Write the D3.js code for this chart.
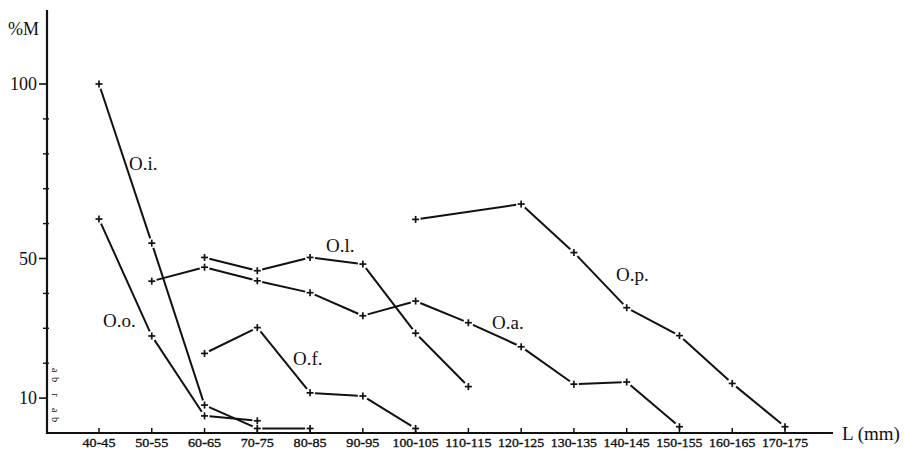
<!DOCTYPE html>
<html>
<head>
<meta charset="utf-8">
<script src="https://cdn.jsdelivr.net/npm/d3@7"></script>
<style>
  html, body { margin: 0; padding: 0; background: #fff; }
  svg { display: block; }
  text { font-family: "Liberation Serif", "DejaVu Serif", serif; fill: #111; }
</style>
</head>
<body>
<svg id="chart" width="905" height="449"></svg>
<script>
// ---- data ----
const categories = ["40-45","50-55","60-65","70-75","80-85","90-95","100-105","110-115",
                    "120-125","130-135","140-145","150-155","160-165","170-175"];
const yTickLabels = [10, 50, 100];
const yMinorTicks = [20, 30, 40, 60, 70, 80, 90];

const seriesOi = [["40-45",100],["50-55",54.4],["60-65",8.0],["70-75",1.3],["80-85",1.3]];
const seriesOo = [["40-45",61.3],["50-55",27.8],["60-65",4.9],["70-75",3.5]];
const seriesOa = [["50-55",43.5],["60-65",47.5],["70-75",43.6],["80-85",40.2],["90-95",33.6],
                  ["100-105",37.8],["110-115",31.6],["120-125",24.7],["130-135",14.0],
                  ["140-145",14.6],["150-155",1.8]];
const seriesOl = [["60-65",50.3],["70-75",46.5],["80-85",50.3],["90-95",48.4],["100-105",28.6],["110-115",13.3]];
const seriesOf = [["60-65",22.8],["70-75",30.2],["80-85",11.5],["90-95",10.6],["100-105",1.3]];
const seriesOp = [["100-105",61.2],["120-125",65.6],["130-135",51.7],["140-145",35.9],
                  ["150-155",27.9],["160-165",14.2],["170-175",1.8]];

const seriesLabels = [
  {name:"O.i.", x:129, y:170},
  {name:"O.o.", x:103, y:327},
  {name:"O.l.", x:326, y:252},
  {name:"O.f.", x:293, y:365},
  {name:"O.a.", x:492, y:329},
  {name:"O.p.", x:616, y:281}
];

// ---- layout ----
const svg = d3.select("#chart");
const axisX0 = 47, axisY0 = 433;
const x = d3.scalePoint().domain(categories).range([99, 785]);
const y = d3.scaleLinear().domain([0, 100]).range([433, 84]);

// axes lines
svg.append("line").attr("x1", axisX0).attr("x2", axisX0).attr("y1", 10).attr("y2", axisY0 + 1)
  .attr("stroke", "#111").attr("stroke-width", 2.2);
svg.append("line").attr("x1", axisX0 - 1).attr("x2", 833).attr("y1", axisY0).attr("y2", axisY0)
  .attr("stroke", "#111").attr("stroke-width", 2.2);

// y ticks
svg.append("g").selectAll("line").data(yTickLabels).join("line")
  .attr("x1", axisX0 - 8).attr("x2", axisX0).attr("y1", d => y(d)).attr("y2", d => y(d))
  .attr("stroke", "#111").attr("stroke-width", 1.6);
svg.append("g").selectAll("line").data(yMinorTicks).join("line")
  .attr("x1", axisX0 - 4).attr("x2", axisX0 + 2).attr("y1", d => y(d)).attr("y2", d => y(d))
  .attr("stroke", "#111").attr("stroke-width", 1.4);
svg.append("g").selectAll("text").data(yTickLabels).join("text")
  .attr("x", axisX0 - 10).attr("y", d => y(d) + 6)
  .attr("text-anchor", "end").attr("font-size", 18).text(d => d);

svg.append("text").attr("x", 8).attr("y", 35).attr("font-size", 18).text("%M");

// x ticks
svg.append("g").selectAll("line").data(categories).join("line")
  .attr("x1", d => x(d)).attr("x2", d => x(d)).attr("y1", axisY0 - 5).attr("y2", axisY0)
  .attr("stroke", "#111").attr("stroke-width", 1.5);
svg.append("g").selectAll("text").data(categories).join("text")
  .attr("x", d => x(d)).attr("y", 447)
  .attr("text-anchor", "middle").attr("font-size", 13)
  .attr("stroke", "#111").attr("stroke-width", 0.35)
  .attr("textLength", d => d.length * 6.6).attr("lengthAdjust", "spacingAndGlyphs")
  .text(d => d);

svg.append("text").attr("x", 842).attr("y", 440).attr("font-size", 19).text("L (mm)");

// small rotated annotation by the y axis
svg.append("text").attr("transform", "translate(52,368) rotate(90)")
  .attr("font-size", 10).attr("fill", "#333")
  .attr("textLength", 54).attr("lengthAdjust", "spacing").text("ab r ab");

// ---- series ----
const allSeries = [seriesOi, seriesOo, seriesOa, seriesOl, seriesOf, seriesOp];
const gap = 5;
allSeries.forEach(s => {
  const pts = s.map(([c, v]) => [x(c), y(v)]);
  const segs = [];
  for (let i = 0; i < pts.length - 1; i++) {
    const [x1, y1] = pts[i], [x2, y2] = pts[i + 1];
    const len = Math.hypot(x2 - x1, y2 - y1);
    const ux = (x2 - x1) / len, uy = (y2 - y1) / len;
    const g = Math.min(gap, len / 3);
    segs.push([x1 + ux * g, y1 + uy * g, x2 - ux * g, y2 - uy * g]);
  }
  svg.append("g").selectAll("line").data(segs).join("line")
    .attr("x1", d => d[0]).attr("y1", d => d[1]).attr("x2", d => d[2]).attr("y2", d => d[3])
    .attr("stroke", "#111").attr("stroke-width", 2);
  const m = svg.append("g").selectAll("g").data(pts).join("g")
    .attr("transform", d => `translate(${d[0]},${d[1]})`);
  m.append("line").attr("x1", -3.5).attr("x2", 3.5).attr("y1", 0).attr("y2", 0)
    .attr("stroke", "#111").attr("stroke-width", 1.7);
  m.append("line").attr("x1", 0).attr("x2", 0).attr("y1", -3.5).attr("y2", 3.5)
    .attr("stroke", "#111").attr("stroke-width", 1.7);
});

svg.append("g").selectAll("text").data(seriesLabels).join("text")
  .attr("x", d => d.x).attr("y", d => d.y).attr("font-size", 19).text(d => d.name);
</script>
</body>
</html>
